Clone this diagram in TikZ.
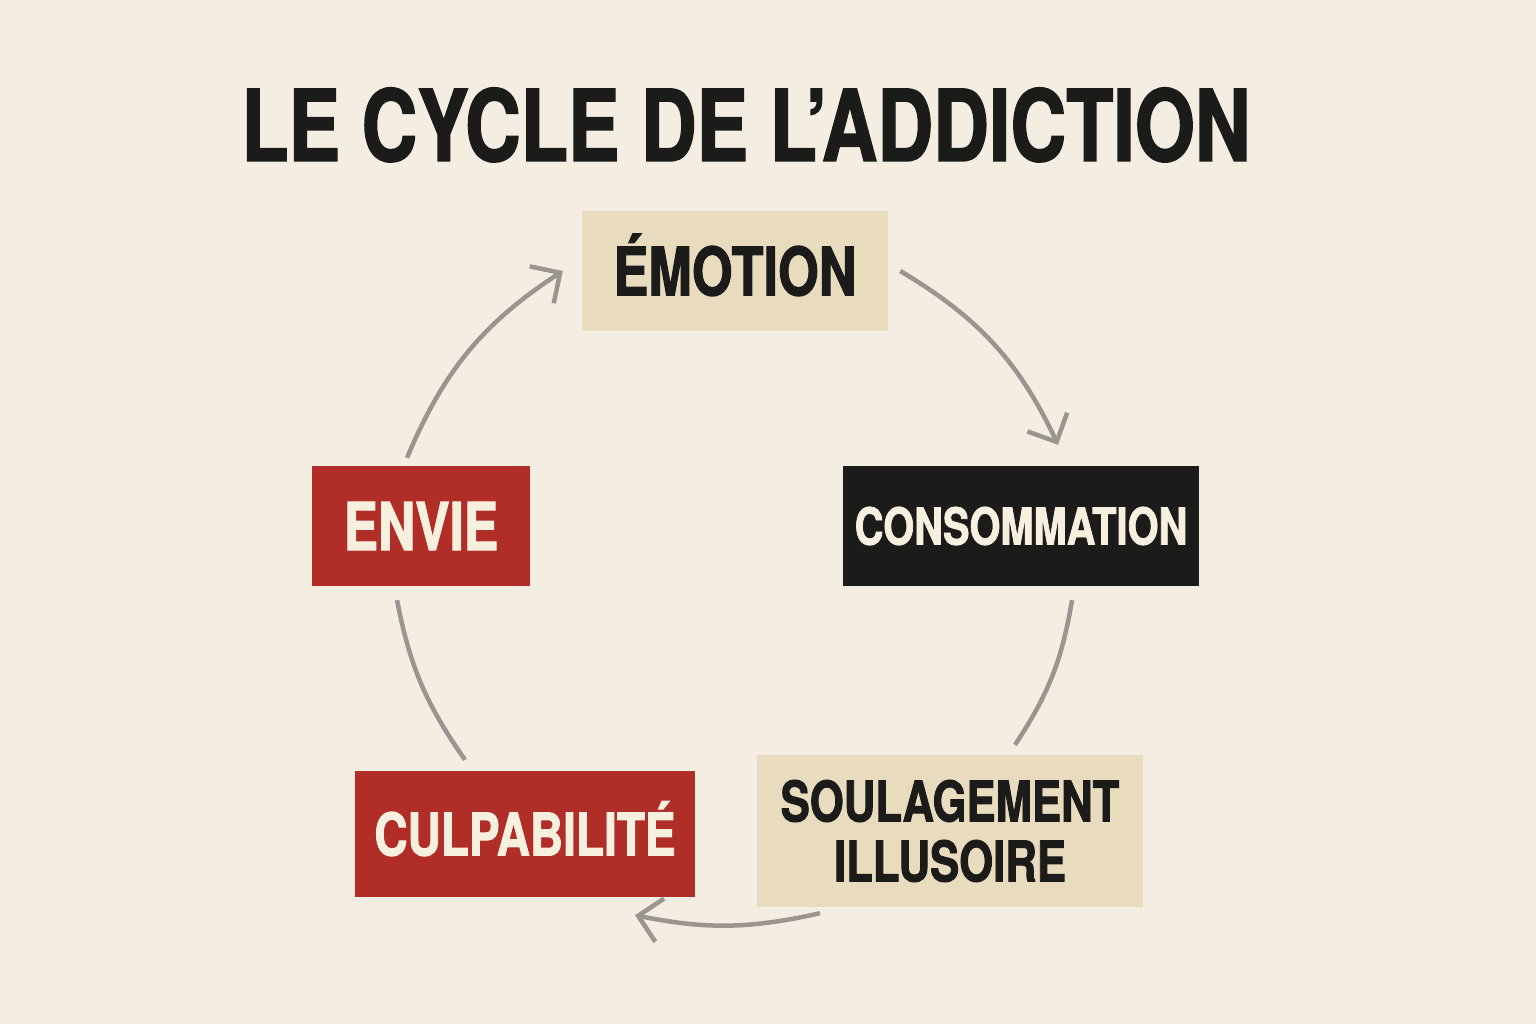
\documentclass[tikz,border=0pt]{standalone}
\usepackage{fontspec}
\setmainfont{TeX Gyre Heros}
\newfontfamily\condfont[FakeStretch=0.78,FakeBold=1.5]{TeX Gyre Heros}
\usetikzlibrary{arrows.meta}
\definecolor{paper}{HTML}{F4EDE2}
\definecolor{sand}{HTML}{E8DBBE}
\definecolor{brick}{HTML}{B02D28}
\definecolor{ink}{HTML}{1B1B19}
\definecolor{cream}{HTML}{F7F0DF}
\definecolor{arrowgray}{HTML}{9A958F}
\tikzset{stage/.style={inner sep=0pt,align=center,font=\condfont\bfseries}}
\tikzset{flow/.style={draw=arrowgray,line width=4.5pt}}
\tikzset{tip/.style={-{Straight Barb[length=22pt,width=44pt]}}}

\begin{document}
\begin{tikzpicture}[x=1pt,y=-1pt]
    \fill[paper] (0,0) rectangle (1536,1024);
    \useasboundingbox (0,0) rectangle (1536,1024);

    \node[anchor=base,font=\condfont\bfseries\fontsize{99}{106}\selectfont,text=ink] (title) at (746,161) {LE CYCLE DE L’ADDICTION};

    \node[stage,fill=sand,text=ink,minimum width=306pt,minimum height=120pt,font=\condfont\bfseries\fontsize{67}{70}\selectfont] (emotion) at (735,271) {\smash{É}MOTION};
    \node[stage,fill=ink,text=cream,minimum width=356pt,minimum height=120pt,font=\condfont\bfseries\fontsize{51}{56}\selectfont] (conso) at (1021,526) {CONSOMMATION};
    \node[stage,fill=sand,text=ink,minimum width=386pt,minimum height=152pt,font=\condfont\bfseries\fontsize{56}{60}\selectfont] (soulag) at (950,831) {SOULAGEMENT\\ILLUSOIRE};
    \node[stage,fill=brick,text=cream,minimum width=340pt,minimum height=126pt,font=\condfont\bfseries\fontsize{59}{64}\selectfont] (culpa) at (525,834) {CULPABILIT\smash{É}};
    \node[stage,fill=brick,text=cream,minimum width=218pt,minimum height=120pt,font=\condfont\bfseries\fontsize{66}{70}\selectfont] (envie) at (421,526) {ENVIE};

    \draw[flow,tip] ([shift={(-14,-8)}]envie.north) to[bend left=17] ([xshift=-19pt]emotion.west);
    \draw[flow,tip] ([xshift=12pt]emotion.east) to[bend left=17] ([shift={(37,-21)}]conso.north);
    \draw[flow] ([shift={(51,14)}]conso.south) to[bend left=12] ([shift={(65,-10)}]soulag.north);
    \draw[flow,tip] ([shift={(-130,6)}]soulag.south) to[bend left=12] ([shift={(110,18)}]culpa.south);
    \draw[flow] ([shift={(-60,-11)}]culpa.north) to[bend left=12] ([shift={(-24,14)}]envie.south);
\end{tikzpicture}
\end{document}
